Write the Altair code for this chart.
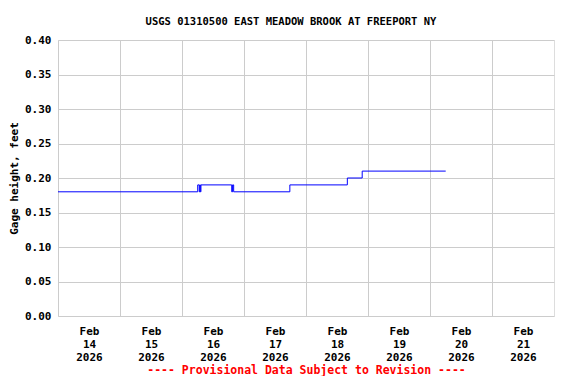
import altair as alt
import pandas as pd

# Step-change times (UTC) and gage height values (feet)
times = [
    "2026-02-14T00:00Z", "2026-02-16T06:05Z", "2026-02-16T06:40Z",
    "2026-02-16T06:55Z", "2026-02-16T07:05Z", "2026-02-16T07:20Z",
    "2026-02-16T19:15Z", "2026-02-16T19:35Z", "2026-02-16T20:00Z",
    "2026-02-17T17:45Z", "2026-02-18T16:00Z", "2026-02-18T21:45Z",
    "2026-02-20T06:05Z",
]
values = [0.18, 0.19, 0.18, 0.19, 0.18, 0.19, 0.18, 0.19, 0.18, 0.19, 0.20, 0.21, 0.21]

tick_days = [14, 15, 16, 17, 18, 19, 20, 21]
y_ticks = [0.00, 0.05, 0.10, 0.15, 0.20, 0.25, 0.30, 0.35, 0.40]

df = pd.DataFrame({"t": times, "v": values})

FONT = "DejaVu Sans Mono"

x_axis = alt.Axis(
    values=[alt.DateTime(year=2026, month=2, date=d, utc=True) for d in tick_days],
    labelExpr="[utcFormat(datum.value, '%b'), utcFormat(datum.value, '%d'), utcFormat(datum.value, '%Y')]",
    labelOffset=31, labelFlush=False, labelOverlap=False,
    labelFont=FONT, labelFontWeight="bold", labelFontSize=11, labelColor="black",
    labelLineHeight=13, labelPadding=9, labelAngle=0,
    ticks=False, domain=False,
    grid=True, gridColor="#cccccc", gridWidth=1,
    title="---- Provisional Data Subject to Revision ----",
    titleFont=FONT, titleFontWeight="bold", titleFontSize=11.5, titleColor="red",
    titlePadding=2,
)

y_axis = alt.Axis(
    values=y_ticks, format=".2f",
    labelFont=FONT, labelFontWeight="bold", labelFontSize=11, labelColor="black",
    labelPadding=7, ticks=False, domain=False,
    grid=True, gridColor="#cccccc", gridWidth=1,
    title="Gage height, feet",
    titleFont=FONT, titleFontWeight="bold", titleFontSize=11, titleColor="black",
    titlePadding=5,
)

chart = (
    alt.Chart(df)
    .mark_line(interpolate="step-after", color="#0000ff", strokeWidth=1)
    .encode(
        x=alt.X("t:T", axis=x_axis,
                scale=alt.Scale(type="utc", domain=[
                    alt.DateTime(year=2026, month=2, date=14, utc=True),
                    alt.DateTime(year=2026, month=2, date=22, utc=True)])),
        y=alt.Y("v:Q", axis=y_axis, scale=alt.Scale(domain=[0, 0.4], nice=False, zero=True)),
    )
    .properties(
        width=496, height=276,
        autosize=alt.AutoSizeParams(type="none"),
        padding={"left": 50, "top": 32, "right": 14, "bottom": 60},
        title=alt.TitleParams(
            "USGS 01310500 EAST MEADOW BROOK AT FREEPORT NY",
            font=FONT, fontWeight="bold", fontSize=10.5, color="black",
            anchor="middle", offset=7, dx=-15,
        ),
    )
    .configure_view(stroke="black", strokeWidth=1)
    .configure(background="white")
)

chart.save("out.html", embed_options={"renderer": "svg", "actions": False})
